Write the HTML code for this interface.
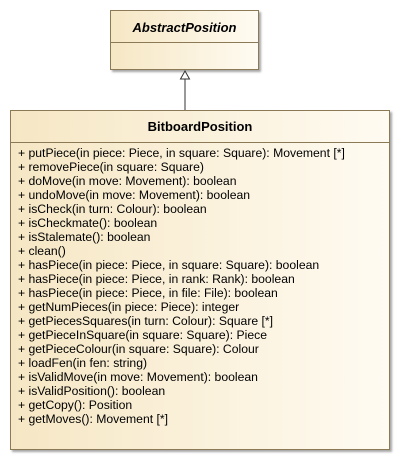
<!DOCTYPE html>
<html><head><style>
body{margin:0;width:401px;height:461px;background:#fff;font-family:"Liberation Sans",sans-serif;position:relative;overflow:hidden}
.box{position:absolute;border:1px solid #8b7a55;background:linear-gradient(90deg,#f6e7c4,#fffbf2);box-shadow:2px 2px 2px rgba(0,0,0,.35);box-sizing:border-box}
.t{font-weight:bold;font-size:13px;text-align:center;color:#000}
.div{position:absolute;left:0;right:0;height:0;border-top:1px solid #8b7a55}
.ops{position:absolute;left:7px;top:35px;font-size:12.2px;line-height:14px;color:#000;white-space:pre}
</style></head><body>
<div class="box" style="left:110px;top:10px;width:149px;height:60px">
<div class="t" style="font-style:italic;position:absolute;left:0;right:0;top:9px">AbstractPosition</div>
<div class="div" style="top:31px"></div>
</div>
<svg style="position:absolute;left:0;top:0" width="401" height="461">
<line x1="185" y1="79" x2="185" y2="110" stroke="#333" stroke-width="1"/>
<polygon points="185,71 180.5,79 189.5,79" fill="#fff" stroke="#333" stroke-width="1"/>
</svg>
<div class="box" style="left:10px;top:110px;width:380px;height:340px">
<div class="t" style="position:absolute;left:0;right:0;top:8px">BitboardPosition</div>
<div class="div" style="top:31px"></div>
<div class="ops">+ putPiece(in piece: Piece, in square: Square): Movement [*]
+ removePiece(in square: Square)
+ doMove(in move: Movement): boolean
+ undoMove(in move: Movement): boolean
+ isCheck(in turn: Colour): boolean
+ isCheckmate(): boolean
+ isStalemate(): boolean
+ clean()
+ hasPiece(in piece: Piece, in square: Square): boolean
+ hasPiece(in piece: Piece, in rank: Rank): boolean
+ hasPiece(in piece: Piece, in file: File): boolean
+ getNumPieces(in piece: Piece): integer
+ getPiecesSquares(in turn: Colour): Square [*]
+ getPieceInSquare(in square: Square): Piece
+ getPieceColour(in square: Square): Colour
+ loadFen(in fen: string)
+ isValidMove(in move: Movement): boolean
+ isValidPosition(): boolean
+ getCopy(): Position
+ getMoves(): Movement [*]</div>
</div>
</body></html>
